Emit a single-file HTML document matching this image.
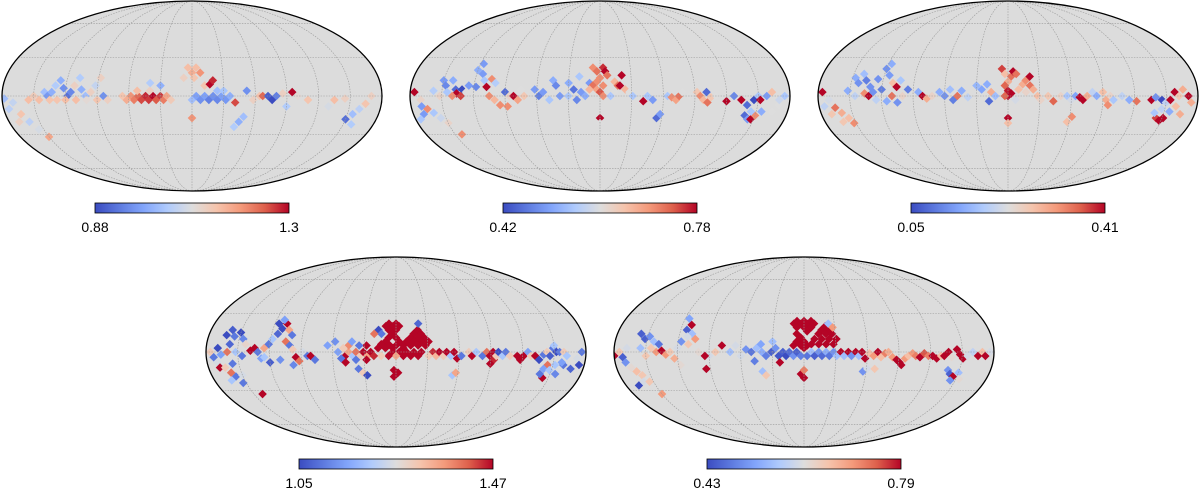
<!DOCTYPE html>
<html><head><meta charset="utf-8">
<style>
html,body{margin:0;padding:0;background:#fff;}
svg{display:block;font-family:"Liberation Sans",sans-serif;}
</style></head>
<body>
<svg id="fig" width="1200" height="489" viewBox="0 0 1200 489" xmlns="http://www.w3.org/2000/svg">
<defs id="defs"></defs>
</svg>
<script>
const map1Pixels=[[-140,3,1.02],[-137,0,0.97],[-133,3,1.0],[-130,8,1.04],[-126,12,1.0],[-122,6,0.96],[-118,0,0.92],[-115,3,0.95],[-112,8,1.12],[-108,14,1.04],[-105,5,1.0],[-101,0,1.02],[-96,3,1.12],[-92,8,1.06],[-88,14,1.12],[-84,0,0.96],[-80,-3,1.12],[-135,-3,1.14],[-128,-3,1.14],[-120,-3,1.15],[-110,-3,1.15],[-100,-3,1.1],[-90,-3,1.14],[-145,-3,1.15],[-150,0,1.13],[-155,-3,1.15],
[-170,-5,1.06],[-175,-10,1.05],[-165,-14,1.14],[-160,-20,1.05],[-170,-20,1.12],[-155,-26,1.08],[-150,-32,1.18],[-178,-2,1.02],
[-58,0,1.2],[-55,-3,1.22],[-51,0,1.24],[-48,-3,1.26],[-44,0,1.28],[-41,-3,1.27],[-37,0,1.3],[-34,-3,1.25],[-30,0,1.27],[-27,-3,1.22],[-24,0,1.18],[-62,-3,1.17],[-66,0,1.14],[-52,4,1.15],[-40,4,1.12],[-20,-3,1.13],[-40,10,1.04],[-30,8,1.0],
[-4,22,1.15],[0,18,1.17],[4,22,1.15],[8,18,1.2],[2,14,1.14],[-8,14,1.12],[12,8,1.14],[17,9,1.3],[20,12,1.28],
[0,-3,1.02],[4,0,0.98],[8,-3,0.96],[12,0,0.98],[16,-3,0.94],[20,0,0.96],[24,-3,0.95],[28,0,0.98],[32,-3,0.97],[36,0,1.0],[24,4,1.02],[30,4,1.03],
[41,-5,1.26],[52,4,0.96],[58,-3,1.12],[64,0,1.14],[67,0,1.24],[72,0,0.9],[76,-3,0.88],[80,0,0.94],[86,2,1.12],[95,3,1.3],[100,0,1.1],[110,-3,1.14],[90,-8,1.04],
[0,-17,1.2],[46,-20,1.0],[50,-16,1.02],[42,-24,1.04],
[135,-3,1.15],[145,-2,1.12],[150,-18,0.92],[155,-14,1.02],[160,-10,1.05],[165,-6,1.14],[158,-22,1.04],[170,0,1.12],[130,-8,1.08]];

const map2Pixels=[[-176,3,0.78],[-170,-3,0.62],[-165,0,0.6],[-170,-8,0.5],[-165,-10,0.7],[-160,-13,0.55],[-155,-17,0.58],[-150,-21,0.62],[-156,-24,0.6],[-143,-30,0.7],[-170,-14,0.5],[-175,-18,0.55],
[-150,12,0.5],[-147,8,0.48],[-141,12,0.52],[-137,5,0.45],[-131,5,0.42],[-136,2,0.78],[-132,0,0.75],[-140,0,0.7],[-127,3,0.6],[-125,8,0.5],[-145,3,0.55],[-152,0,0.62],[-158,4,0.56],
[-120,20,0.52],[-117,25,0.5],[-114,17,0.5],[-111,12,0.55],[-108,7,0.78],[-104,13,0.7],[-100,10,0.56],[-112,3,0.6],[-105,0,0.7],[-100,-3,0.66],[-95,-7,0.7],[-90,3,0.45],[-86,0,0.62],[-82,0,0.78],[-78,-3,0.68],[-75,5,0.6],[-72,0,0.64],[-88,-8,0.7],[-118,7,0.48],
[-62,5,0.5],[-58,0,0.47],[-54,3,0.5],[-48,-3,0.55],[-45,12,0.52],[-42,8,0.48],[-38,0,0.5],[-30,0,0.55],[-30,10,0.52],[-25,5,0.46],[-22,-3,0.48],[-18,3,0.5],[-14,0,0.52],[-10,10,0.5],[-20,15,0.55],
[-7,22,0.7],[-3,19,0.72],[3,22,0.76],[5,19,0.78],[7,16,0.72],[0,14,0.7],[-3,11,0.7],[-7,8,0.72],[-3,5,0.68],[3,8,0.7],[0,3,0.74],[3,0,0.7],[-10,5,0.66],[14,11,0.66],[17,8,0.72],[19,8,0.78],[21,16,0.78],[24,5,0.66],[14,3,0.6],[10,0,0.55],[28,3,0.6],[31,0,0.55],
[0,-17,0.78],[0,-21,0.6],
[41,-4,0.78],[45,0,0.55],[50,-3,0.5],[55,-17,0.45],[58,-14,0.5],[64,0,0.55],[68,-1,0.7],[72,-3,0.68],[75,0,0.72],[78,3,0.6],[85,0,0.6],[92,3,0.64],[95,0,0.7],[98,-3,0.66],[101,3,0.45],[102,-5,0.72],[105,-1,0.64],[110,0,0.6],[120,-4,0.78],[127,0,0.48],[134,-3,0.78],[140,-7,0.45],[146,-3,0.42],[150,0,0.55],[152,-3,0.78],[158,0,0.5],[163,3,0.65],[170,-7,0.6],[175,0,0.55],
[140,-15,0.45],[144,-18,0.5],[147,-18,0.78],[150,-15,0.7],[145,-12,0.55],[155,-12,0.52],[165,-12,0.6],[170,-3,0.58]];

const map3Pixels=[[-176,3,0.41],[-170,-3,0.22],[-165,-9,0.35],[-160,-13,0.3],[-155,-17,0.28],[-152,-21,0.33],[-170,-14,0.27],[-162,-20,0.27],[-175,-8,0.2],
[-147,14,0.15],[-143,10,0.12],[-140,17,0.17],[-136,12,0.1],[-131,7,0.12],[-125,13,0.12],[-120,21,0.12],[-117,25,0.15],[-115,16,0.13],[-120,5,0.1],[-136,2,0.33],[-132,0,0.41],[-128,3,0.12],[-110,10,0.28],[-106,7,0.41],[-110,0,0.35],[-103,12,0.18],[-100,0,0.25],[-95,5,0.1],[-145,0,0.2],[-152,4,0.15],[-125,-3,0.2],[-115,-4,0.15],[-105,-5,0.12],
[-85,3,0.15],[-81,0,0.41],[-77,-2,0.3],[-72,0,0.25],[-65,3,0.15],[-60,0,0.12],[-55,5,0.17],[-52,-3,0.1],[-48,0,0.35],[-44,4,0.15],[-38,-1,0.2],[-30,8,0.16],[-25,5,0.14],[-20,9,0.15],[-18,-4,0.08],[-16,3,0.3],[-12,0,0.17],
[-6,21,0.38],[-3,17,0.28],[3,15,0.35],[5,19,0.41],[8,17,0.35],[0,11,0.3],[-3,8,0.36],[0,4,0.4],[0,0,0.41],[3,2,0.41],[-3,0,0.36],[10,5,0.28],[14,9,0.3],[17,12,0.33],[21,15,0.41],[21,8,0.35],[24,5,0.3],[17,3,0.25],[28,0,0.28],[31,-3,0.25],[7,-3,0.22],
[0,-17,0.41],[0,-21,0.28],
[43,-4,0.36],[38,0,0.27],[50,0,0.25],[56,0,0.18],[60,-3,0.22],[64,0,0.14],[68,-1,0.41],[71,-3,0.41],[75,0,0.3],[80,3,0.2],[84,0,0.15],[90,3,0.28],[93,-3,0.3],[97,0,0.25],[95,-7,0.33],[100,-3,0.18],[108,0,0.2],[115,-3,0.15],[122,-4,0.35],[136,-3,0.41],[140,-1,0.12],[146,-3,0.05],[150,-5,0.2],[154,-3,0.41],[158,3,0.41],[162,0,0.27],[166,5,0.3],[171,0,0.41],[174,-5,0.3],
[62,-16,0.33],[58,-20,0.28],[144,-17,0.38],[148,-19,0.41],[151,-17,0.41],[141,-13,0.18],[147,-10,0.2],[155,-12,0.15],[160,-8,0.28],[166,-14,0.3]];

const map4Pixels=[[-10,20,1.47],[-7,22,1.47],[-3,20,1.47],[0,22,1.47],[3,20,1.47],[-7,17,1.47],[0,17,1.47],[-3,14,1.47],[-7,11,1.47],[0,11,1.47],[-10,8,1.47],[3,8,1.47],[-14,6,1.47],[-7,6,1.47],[0,5,1.47],[-3,3,1.47],[-10,3,1.47],[-17,3,1.47],[3,0,1.47],[-3,0,1.47],[7,3,1.47],
[21,17,1.47],[17,14,1.47],[24,14,1.47],[14,11,1.47],[21,11,1.47],[27,11,1.47],[10,8,1.47],[17,8,1.47],[24,8,1.47],[31,8,1.47],[7,5,1.47],[14,5,1.47],[21,5,1.47],[28,5,1.47],[10,0,1.47],[17,0,1.47],[24,0,1.47],[14,-3,1.47],[21,-3,1.47],[7,-3,1.47],[0,-3,1.35],[-7,-3,1.47],[-14,-3,1.3],
[-17,17,1.05],[-14,14,1.1],[22,22,1.08],[-21,14,1.4],
[-48,-3,1.47],[-45,0,1.35],[-41,-3,1.2],[-38,0,1.4],[-34,-3,1.3],[-31,0,1.47],[-27,-3,1.35],[-24,0,1.47],[-21,-3,1.45],[-28,5,1.47],[-35,5,1.1],[-45,5,1.38],[-50,3,1.3],[-55,0,1.15],[-52,-5,1.1],[-48,-8,1.47],[-28,-6,1.47],[-38,-6,1.1],[-58,8,1.13],[-65,5,1.15],[-42,8,1.15],
[-2,-19,1.47],[2,-16,1.47],[-2,-14,1.47],[-36,-13,1.1],[-32,-16,1.3],[-28,-18,1.05],
[35,0,1.45],[38,-3,1.33],[41,0,1.47],[45,-3,1.3],[48,0,1.47],[52,-3,1.2],[55,0,1.47],[31,-3,1.3],[58,-5,1.47],[55,-18,1.2],[58,-16,1.35],[62,-3,1.1],[69,0,1.3],[72,-3,1.47],[76,0,1.2],[82,-3,1.1],[86,0,1.4],[89,-3,1.47],[92,0,1.47],[93,-6,1.45],[90,-9,1.47],[95,-3,1.3],[97,0,1.05],[101,-3,1.2],[104,0,1.1],[108,-3,1.3],[115,-3,1.47],[118,-6,1.47],[121,-3,1.47],[125,0,1.15],[128,-3,1.3],[132,-3,1.47],[136,-6,1.05],[140,-2,1.1],[143,0,1.3],[146,-3,1.07],[149,3,1.1],[152,0,1.05],[155,0,1.1],[159,0,1.3],[162,-3,1.2],[145,-10,1.4],[142,-13,1.15],[148,-14,1.2],[144,-20,1.47],[140,-17,1.1],[152,-10,1.2],[160,-10,1.1],[168,-13,1.08],[172,-5,1.25],[176,0,1.1],[175,-10,1.05],[150,5,1.2],[155,-17,1.12],[158,-8,1.15],
[-173,-4,1.1],[-176,0,1.3],[-169,3,1.05],[-166,-2,1.15],[-170,-8,1.25],[-169,-12,1.47],[-164,-12,1.3],[-160,-16,1.4],[-156,-9,1.1],[-157,-19,1.1],[-163,-22,1.2],[-153,-24,1.1],[-150,-18,1.25],[-141,-33,1.47],[-158,6,1.08],[-163,13,1.05],[-159,17,1.07],[-155,12,1.1],[-150,15,1.05],[-146,10,1.12],[-143,6,1.28],[-138,1,1.47],[-134,3,1.47],[-131,0,1.1],[-152,0,1.2],[-146,-3,1.1],[-160,0,1.4],[-128,-5,1.15],[-125,3,1.35],[-121,6,1.1],[-118,10,1.2],[-114,14,1.08],[-111,18,1.05],[-108,22,1.47],[-104,17,1.35],[-100,13,1.1],[-112,25,1.15],[-116,22,1.05],[-105,8,1.4],[-101,5,1.1],[-98,2,1.3],[-95,-4,1.47],[-92,-7,1.4],[-98,-10,1.12],[-88,0,1.25],[-84,-3,1.1],[-81,-3,1.47],[-77,-6,1.1],[-110,-6,1.13],[-120,-8,1.07],[-125,-4,1.2]];

const map5Pixels=[[-10,22,0.79],[-7,24,0.79],[-3,22,0.79],[0,24,0.79],[3,22,0.79],[7,24,0.79],[10,22,0.79],[-7,19,0.79],[0,19,0.79],[7,19,0.79],[3,16,0.79],[-7,14,0.79],[-3,11,0.79],[0,8,0.79],[-7,8,0.79],[3,5,0.79],[-10,5,0.79],[0,3,0.79],[-3,5,0.79],
[21,20,0.79],[17,17,0.79],[24,17,0.79],[14,14,0.79],[21,14,0.79],[27,14,0.79],[10,10,0.79],[17,10,0.79],[24,10,0.79],[31,10,0.79],[7,6,0.79],[14,6,0.79],[21,6,0.79],[28,6,0.79],[24,22,0.55],[28,19,0.7],
[-55,2,0.5],[-50,0,0.47],[-45,3,0.55],[-40,0,0.53],[-36,-3,0.48],[-31,0,0.45],[-27,3,0.5],[-24,-3,0.44],[-20,0,0.45],[-17,-3,0.43],[-14,0,0.46],[-10,-3,0.5],[-7,0,0.45],[-3,-3,0.48],[3,-3,0.47],[7,0,0.55],[10,-3,0.45],[14,0,0.5],[17,-3,0.46],[21,0,0.53],[24,-3,0.47],[28,0,0.5],[31,-3,0.55],[35,0,0.79],[38,-3,0.55],[42,0,0.79],[45,-3,0.5],[49,0,0.79],[52,-3,0.55],[55,0,0.79],[-23,-8,0.79],[-65,5,0.6],[-70,0,0.55],[-60,-3,0.6],[-47,-7,0.48],[-30,8,0.55],[-41,6,0.52],[-78,5,0.79],[-84,0,0.65],[-90,-3,0.6],[-94,-3,0.79],[-94,-13,0.79],[-100,0,0.62],[-40,-15,0.55],[-37,-18,0.65],
[0,-20,0.79],[-3,-17,0.79],[0,-14,0.72],
[58,-5,0.79],[62,-1,0.66],[66,-3,0.7],[70,0,0.79],[73,-4,0.66],[77,-1,0.72],[80,0,0.68],[84,-4,0.7],[88,-6,0.79],[91,-8,0.79],[93,-10,0.79],[96,-5,0.7],[99,-3,0.66],[103,-1,0.7],[106,-3,0.72],[110,-4,0.79],[114,-1,0.75],[118,-3,0.72],[122,-3,0.79],[126,-5,0.79],[130,-3,0.66],[133,-3,0.79],[137,0,0.79],[140,-4,0.62],[145,2,0.79],[148,-2,0.79],[151,-5,0.79],[155,-3,0.6],[160,0,0.58],[165,-3,0.79],[169,0,0.66],[172,-3,0.79],[176,0,0.6],[139,-14,0.5],[142,-17,0.45],[146,-19,0.79],[150,-16,0.55],[145,-22,0.5],[153,-21,0.62],[57,-15,0.5],[61,-13,0.6],[68,-13,0.65],
[-180,-3,0.79],[-175,0,0.65],[-172,-4,0.45],[-168,3,0.6],[-170,-8,0.5],[-166,-12,0.62],[-162,-15,0.66],[-158,-18,0.65],[-167,-26,0.43],[-160,-23,0.6],[-154,-23,0.65],[-150,-33,0.7],[-157,14,0.45],[-152,10,0.45],[-148,12,0.5],[-143,8,0.55],[-138,6,0.47],[-145,3,0.65],[-140,0,0.7],[-135,1,0.79],[-131,-2,0.7],[-127,0,0.65],[-150,-3,0.65],[-155,3,0.55],[-123,-5,0.68],[-120,3,0.6],[-117,8,0.5],[-114,17,0.45],[-111,21,0.79],[-108,14,0.55],[-116,26,0.52],[-112,12,0.6],[-104,10,0.7],[-110,6,0.65],[-118,-10,0.62]];

const colorbarMin=[0.88,0.42,0.05,1.05,0.43];
const colorbarMax=[1.3,0.78,0.41,1.47,0.79];
const colorbarMinLabels=["0.88","0.42","0.05","1.05","0.43"];
const colorbarMaxLabels=["1.3","0.78","0.41","1.47","0.79"];
const gridLongitudes=[-150,-120,-90,-60,-30,0,30,60,90,120,150];
const gridLatitudes=[-60,-30,0,30,60];

const layout=[{cx:192,cy:96},{cx:600,cy:96},{cx:1008,cy:96},{cx:396,cy:352},{cx:804,cy:352}];
const allPixels=[map1Pixels,map2Pixels,map3Pixels,map4Pixels,map5Pixels];
const RX=190,RY=95,HALF=4.3;
const NS="http://www.w3.org/2000/svg";
const svg=document.getElementById('fig');
const defs=document.getElementById('defs');

const stops=[[0,[59,76,192]],[0.125,[93,122,223]],[0.25,[130,165,251]],[0.375,[176,203,252]],[0.5,[221,221,221]],[0.625,[245,196,173]],[0.75,[244,154,123]],[0.875,[222,96,76]],[1,[180,4,38]]];
function cmap(t){t=Math.max(0,Math.min(1,t));for(let i=1;i<stops.length;i++){if(t<=stops[i][0]){const a=stops[i-1],b=stops[i];const f=(t-a[0])/(b[0]-a[0]);const c=a[1].map((v,k)=>Math.round(v+f*(b[1][k]-v)));return 'rgb('+c.join(',')+')';}}return 'rgb(180,4,38)';}
function theta(latDeg){const phi=latDeg*Math.PI/180;if(Math.abs(latDeg)>=90)return Math.sign(latDeg)*Math.PI/2;let t=phi;for(let i=0;i<30;i++){const f=2*t+Math.sin(2*t)-Math.PI*Math.sin(phi);const d=2+2*Math.cos(2*t);if(Math.abs(d)<1e-9)break;t-=f/d;}return t;}
function proj(L,lon,lat){const t=theta(lat);return [L.cx+RX*(lon/180)*Math.cos(t),L.cy-RY*Math.sin(t)];}
function mk(tag,attrs){const e=document.createElementNS(NS,tag);for(const k in attrs)e.setAttribute(k,attrs[k]);return e;}

for(let m=0;m<5;m++){
  const L=layout[m];
  const g=mk('g',{});
  
  
  svg.appendChild(g);
  const cp=mk('clipPath',{id:'clip'+m});
  cp.appendChild(mk('ellipse',{cx:L.cx,cy:L.cy,rx:RX,ry:RY}));
  defs.appendChild(cp);
  const bg=mk('ellipse',{cx:L.cx,cy:L.cy,rx:RX,ry:RY,fill:'#dcdcdc'});
  
  
  g.appendChild(bg);
  const inner=mk('g',{'clip-path':'url(#clip'+m+')'});
  g.appendChild(inner);
  const px=allPixels[m],vmin=colorbarMin[m],vmax=colorbarMax[m];
  px.forEach(p=>{const [x,y]=proj(L,p[0],p[1]);
    const d=mk('polygon',{points:(x-HALF)+','+y+' '+x+','+(y-HALF)+' '+(x+HALF)+','+y+' '+x+','+(y+HALF),fill:cmap((p[2]-vmin)/(vmax-vmin))});
    
    
    inner.appendChild(d);});
  gridLongitudes.forEach(lon=>{let s='';for(let lat=-90;lat<=90;lat+=3){const [x,y]=proj(L,lon,lat);s+=(s?'L':'M')+x.toFixed(2)+','+y.toFixed(2);}
    const pl=mk('path',{d:s,fill:'none',stroke:'#999','stroke-width':0.6,'stroke-dasharray':'1.5,1.2'});
    
    
    inner.appendChild(pl);});
  gridLatitudes.forEach(lat=>{const a=proj(L,-180,lat),b=proj(L,180,lat);
    const ln=mk('line',{x1:a[0],y1:a[1],x2:b[0],y2:b[1],stroke:'#999','stroke-width':0.6,'stroke-dasharray':'1.5,1.2'});
    
    
    inner.appendChild(ln);});
  const border=mk('ellipse',{cx:L.cx,cy:L.cy,rx:RX,ry:RY,fill:'none',stroke:'#000','stroke-width':1.3});
  
  
  g.appendChild(border);
  const gid='cb'+m;
  const lg=mk('linearGradient',{id:gid,x1:0,x2:1,y1:0,y2:0});
  for(let i=0;i<=16;i++){lg.appendChild(mk('stop',{offset:(i/16),'stop-color':cmap(i/16)}));}
  defs.appendChild(lg);
  const bx=L.cx-97,by=L.cy+107;
  const cb=mk('rect',{x:bx,y:by,width:194,height:10,fill:'url(#'+gid+')',stroke:'#000','stroke-width':0.8});
  
  
  g.appendChild(cb);
  const t1=mk('text',{x:bx,y:by+29,'text-anchor':'middle','font-size':14,fill:'#000'});
  
  
  t1.textContent=colorbarMinLabels[m];g.appendChild(t1);
  const t2=mk('text',{x:bx+194,y:by+29,'text-anchor':'middle','font-size':14,fill:'#000'});
  
  
  t2.textContent=colorbarMaxLabels[m];g.appendChild(t2);
}
</script>
</body></html>
